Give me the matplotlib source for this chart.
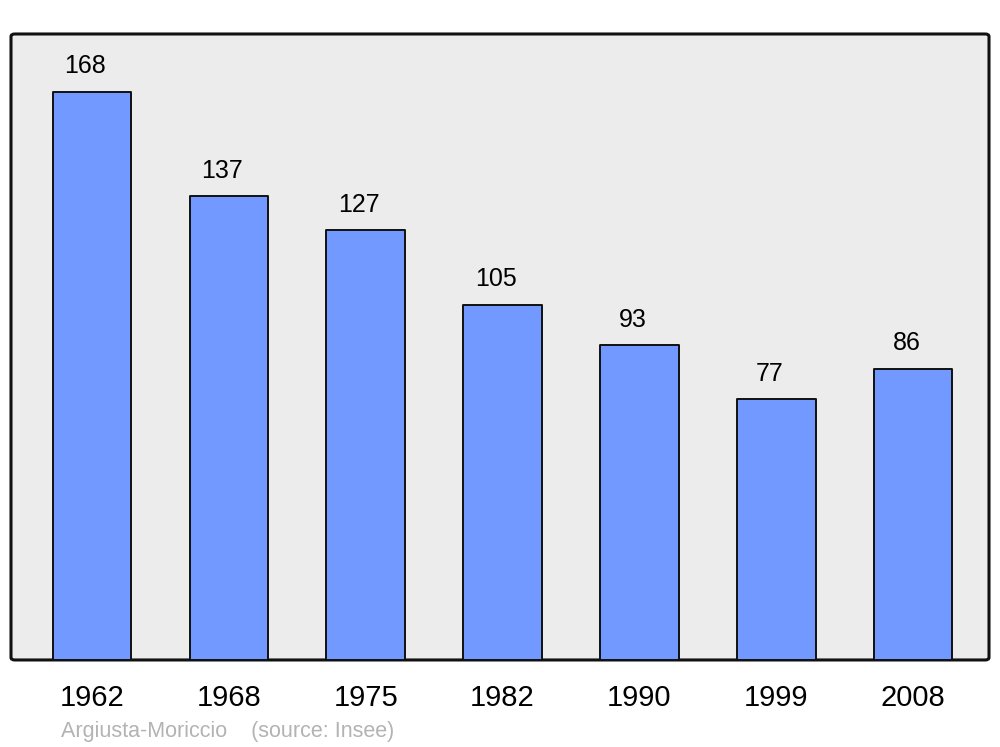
import matplotlib
matplotlib.use("Agg")
import matplotlib.pyplot as plt
from matplotlib.patches import FancyBboxPatch

plt.rcParams['font.family'] = ['Liberation Sans', 'DejaVu Sans']

# dati popolazione
anni = ["1962", "1968", "1975", "1982", "1990", "1999", "2008"]
abitanti = [168, 137, 127, 105, 93, 77, 86]

fig = plt.figure(figsize=(10, 7.47), dpi=100)
ax = fig.add_axes([0.011, 0.1165, 0.978, 0.838])
ax.set_facecolor("none")

# sfondo con angoli arrotondati
sfondo = FancyBboxPatch((0, 0), 1, 1, boxstyle="round,pad=0,rounding_size=0.004",
                        transform=ax.transAxes, facecolor="#ececec",
                        edgecolor="#111111", linewidth=2.2, zorder=0, clip_on=False)
ax.add_patch(sfondo)

pos = range(len(anni))
barre = ax.bar(pos, abitanti, width=0.575, color="#7299ff", edgecolor="#111111",
               linewidth=1.4, zorder=2)
for b in barre:
    b.set_joinstyle("round")

# etichette valori
for x, v in zip(pos, abitanti):
    ax.annotate(str(v), (x, v), xytext=(-4.8, 18.5), textcoords="offset points",
                ha="center", va="center", fontsize=18, color="black")

ax.set_xlim(-0.592, 6.555)
ax.set_ylim(0, 185)
ax.set_xticks(list(pos))
ax.set_xticklabels(anni, fontsize=21)
ax.tick_params(axis="x", length=0, pad=17)
for lab in ax.get_xticklabels():
    lab.set_x(lab.get_position()[0])
ax.set_yticks([])
for s in ax.spines.values():
    s.set_visible(False)

fig.text(0.061, 0.0205, "Argiusta-Moriccio    (source: Insee)", fontsize=15.5,
         color="#b3b3b3", ha="left", va="center")

fig.savefig("out.png", dpi=100)
